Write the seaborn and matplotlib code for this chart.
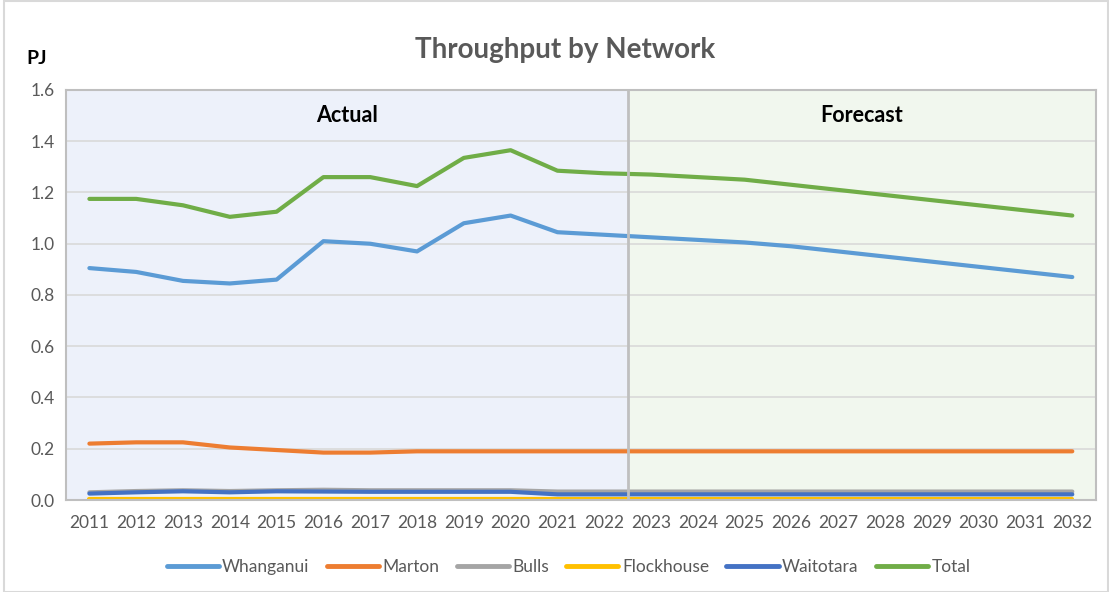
import pandas as pd
import matplotlib.pyplot as plt
import seaborn as sns

# 데이터
years = list(range(2011, 2033))
whanganui = [0.905, 0.89, 0.855, 0.845, 0.86, 1.01, 1.0, 0.97, 1.08, 1.11, 1.045,
             1.035, 1.025, 1.015, 1.005, 0.99, 0.97, 0.95, 0.93, 0.91, 0.89, 0.87]
marton = [0.22, 0.225, 0.225, 0.205, 0.195, 0.185, 0.185, 0.19, 0.19, 0.19, 0.19,
          0.19, 0.19, 0.19, 0.19, 0.19, 0.19, 0.19, 0.19, 0.19, 0.19, 0.19]
bulls = [0.03, 0.035, 0.038, 0.035, 0.038, 0.04, 0.038, 0.038, 0.038, 0.038, 0.033,
         0.033, 0.033, 0.033, 0.033, 0.033, 0.033, 0.033, 0.033, 0.033, 0.033, 0.033]
flockhouse = [0.005] * 22
waitotara = [0.025, 0.03, 0.034, 0.03, 0.034, 0.033, 0.032, 0.032, 0.032, 0.032, 0.022,
             0.022, 0.022, 0.022, 0.022, 0.022, 0.022, 0.022, 0.022, 0.022, 0.022, 0.022]
total = [1.175, 1.175, 1.15, 1.105, 1.125, 1.26, 1.26, 1.225, 1.335, 1.365, 1.285,
         1.275, 1.27, 1.26, 1.25, 1.23, 1.21, 1.19, 1.17, 1.15, 1.13, 1.11]

series_names = ["Whanganui", "Marton", "Bulls", "Flockhouse", "Waitotara", "Total"]
series_values = [whanganui, marton, bulls, flockhouse, waitotara, total]
colors = ["#5B9BD5", "#ED7D31", "#A5A5A5", "#FFC000", "#4472C4", "#70AD47"]

rows = []
for name, vals in zip(series_names, series_values):
    for y, v in zip(years, vals):
        rows.append({"Year": y, "Network": name, "PJ": v})
df = pd.DataFrame(rows)

sns.set_style("white")
plt.rcParams["font.family"] = ["Lato", "DejaVu Sans"]

fig = plt.figure(figsize=(11.09, 5.92), dpi=100)
ax = fig.add_axes([0.0595, 0.1554, 0.9285, 0.6926])

# 배경 영역 (실제 / 예측)
ax.axvspan(2010.5, 2022.5, color="#EDF1FA", zorder=0)
ax.axvspan(2022.5, 2032.5, color="#F1F7EE", zorder=0)

sns.lineplot(data=df, x="Year", y="PJ", hue="Network",
             hue_order=series_names, palette=colors, linewidth=3, ax=ax,
             solid_capstyle="round")

ax.axvline(2022.5, color="#BFBFBF", linewidth=2, zorder=5)

ax.set_xlim(2010.5, 2032.5)
ax.set_ylim(0, 1.6)
ax.set_xticks(years)
ax.set_xticklabels([str(y) for y in years])
ax.set_yticks([0, 0.2, 0.4, 0.6, 0.8, 1.0, 1.2, 1.4, 1.6])
ax.set_yticklabels(["0.0", "0.2", "0.4", "0.6", "0.8", "1.0", "1.2", "1.4", "1.6"])
ax.tick_params(axis="both", labelsize=12.5, colors="#595959", length=0, pad=8)
ax.tick_params(axis="x", pad=11)
ax.grid(axis="y", color="#D9D9D9", linewidth=1.2)
ax.set_axisbelow(True)
for sp in ax.spines.values():
    sp.set_color("#BFBFBF")
    sp.set_linewidth(1.5)
ax.set_xlabel("")
ax.set_ylabel("")

ax.text(2016.5, 1.5, "Actual", ha="center", va="center", fontsize=15.5, fontweight="bold", color="black")
ax.text(2027.5, 1.5, "Forecast", ha="center", va="center", fontsize=15.5, fontweight="bold", color="black")

fig.text(0.51, 0.915, "Throughput by Network", ha="center", va="center",
         fontsize=20, fontweight="bold", color="#595959")
fig.text(0.033, 0.902, "PJ", ha="center", va="center", fontsize=14, fontweight="bold", color="black")

leg = ax.legend(loc="upper center", bbox_to_anchor=(0.488, -0.105), ncol=6, frameon=False,
                fontsize=12.5, handlelength=3, columnspacing=1.0, handletextpad=0.2,
                labelcolor="#595959")
for line in leg.get_lines():
    line.set_linewidth(3.5)

fig.patches.append(plt.Rectangle((0.004, 0.0), 0.995, 0.999, transform=fig.transFigure,
                                 fill=False, edgecolor="#D9D9D9", linewidth=1.5))

plt.savefig("out.png", dpi=100)
plt.close()
